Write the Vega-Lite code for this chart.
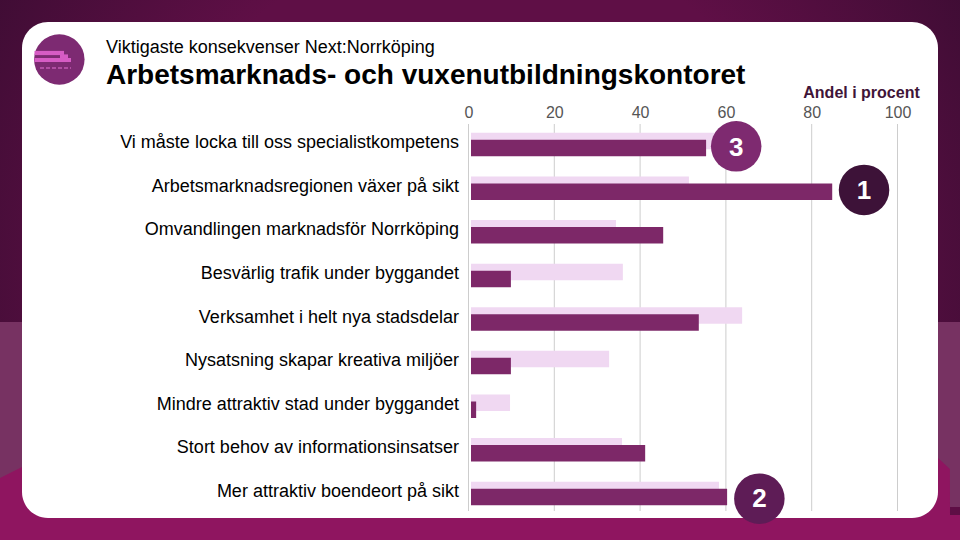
{"$schema":"https://vega.github.io/schema/vega-lite/v6.json","width":429,"height":387,"autosize":"none","padding":{"left":468.5,"top":124,"right":62.5,"bottom":29},"background":"#5a0e42","config":{"font":"Liberation Sans","view":{"stroke":null}},
"title":{"text":"Viktigaste konsekvenser Next:Norrköping","subtitle":"Arbetsmarknads- och vuxenutbildningskontoret","anchor":"start","frame":"group","dx":-362.5,"offset":-90,"fontSize":18,"fontWeight":"normal","color":"#000000","subtitleFontSize":28,"subtitleFontWeight":"bold","subtitleColor":"#000000","subtitlePadding":5,"zindex":1},
"datasets":{"rows":[
{"kategori":"Vi måste locka till oss specialistkompetens","serie":"Next","andel":54.8},
{"kategori":"Arbetsmarknadsregionen växer på sikt","serie":"Next","andel":84.2},
{"kategori":"Omvandlingen marknadsför Norrköping","serie":"Next","andel":44.8},
{"kategori":"Besvärlig trafik under byggandet","serie":"Next","andel":9.3},
{"kategori":"Verksamhet i helt nya stadsdelar","serie":"Next","andel":53.1},
{"kategori":"Nysatsning skapar kreativa miljöer","serie":"Next","andel":9.3},
{"kategori":"Mindre attraktiv stad under byggandet","serie":"Next","andel":1.2},
{"kategori":"Stort behov av informationsinsatser","serie":"Next","andel":40.6},
{"kategori":"Mer attraktiv boendeort på sikt","serie":"Next","andel":59.7},
{"kategori":"Vi måste locka till oss specialistkompetens","serie":"Alla","andel":57},
{"kategori":"Arbetsmarknadsregionen växer på sikt","serie":"Alla","andel":50.8},
{"kategori":"Omvandlingen marknadsför Norrköping","serie":"Alla","andel":33.8},
{"kategori":"Besvärlig trafik under byggandet","serie":"Alla","andel":35.4},
{"kategori":"Verksamhet i helt nya stadsdelar","serie":"Alla","andel":63.2},
{"kategori":"Nysatsning skapar kreativa miljöer","serie":"Alla","andel":32.2},
{"kategori":"Mindre attraktiv stad under byggandet","serie":"Alla","andel":9.1},
{"kategori":"Stort behov av informationsinsatser","serie":"Alla","andel":35.2},
{"kategori":"Mer attraktiv boendeort på sikt","serie":"Alla","andel":57.8}],
"ranks":[
{"kategori":"Vi måste locka till oss specialistkompetens","rank":"3","andel":62.4},
{"kategori":"Arbetsmarknadsregionen växer på sikt","rank":"1","andel":92.2},
{"kategori":"Mer attraktiv boendeort på sikt","rank":"2","andel":67.8}]},
"resolve":{"scale":{"x":"independent","y":"independent"},"axis":{"x":"independent","y":"independent"}},
"layer":[
{"encoding":{"x":{"field":"x0","type":"quantitative","axis":null,"scale":{"domain":[0,960],"range":[-468.5,491.5],"nice":false,"zero":false}},"y":{"field":"y0","type":"quantitative","axis":null,"scale":{"domain":[0,540],"range":[-124,416],"nice":false,"zero":false}}},
"layer":[
{"data":{"values":[{"x0":0,"x1":960,"y0":0,"y1":540}]},"mark":{"type":"rect","color":{"gradient":"radial","x1":0.5,"y1":0.5,"x2":0.5,"y2":0.5,"r1":0.35,"r2":0.72,"stops":[{"offset":0,"color":"#5f0f46"},{"offset":1,"color":"#2c0b2a"}]}},"encoding":{"x2":{"field":"x1"},"y2":{"field":"y1"}}},
{"data":{"values":[{"x0":0,"x1":960,"y0":322,"y1":540}]},"mark":{"type":"rect","color":"#773262"},"encoding":{"x2":{"field":"x1"},"y2":{"field":"y1"}}},
{"data":{"values":[{"x0":0,"y0":478,"y1":540},{"x0":22,"y0":467,"y1":540},{"x0":938,"y0":458,"y1":540},{"x0":949.9,"y0":469,"y1":540},{"x0":950,"y0":515,"y1":540},{"x0":960,"y0":515,"y1":540}]},"mark":{"type":"area","color":"#8f1560","orient":"vertical","opacity":1},"encoding":{"y2":{"field":"y1"}}},
{"data":{"values":[{"x0":950,"x1":960,"y0":507,"y1":515}]},"mark":{"type":"rect","color":"#5e0e45"},"encoding":{"x2":{"field":"x1"},"y2":{"field":"y1"}}},
{"data":{"values":[{"x0":22,"x1":938,"y0":22,"y1":518}]},"mark":{"type":"rect","color":"#ffffff","cornerRadius":26},"encoding":{"x2":{"field":"x1"},"y2":{"field":"y1"}}},
{"data":{"values":[{"x0":59.3,"y0":59.5}]},"mark":{"type":"circle","color":"#7d2a72","opacity":1,"size":2550}},
{"data":{"values":[{"x0":34.5,"x1":64,"y0":53},{"x0":60,"x1":68,"y0":56.5},{"x0":34.5,"x1":71,"y0":60}]},"mark":{"type":"rule","color":"#d65cc4","strokeWidth":4.2},"encoding":{"x2":{"field":"x1"}}},
{"data":{"values":[{"x0":40,"x1":71,"y0":68}]},"mark":{"type":"rule","color":"#c15ab2","strokeWidth":1.5,"strokeDash":[4,2]},"encoding":{"x2":{"field":"x1"}}}
]},
{"layer":[
{"data":{"values":[{"andel":0},{"andel":20},{"andel":40},{"andel":60},{"andel":80},{"andel":100}]},"mark":{"type":"rule","color":"#cdcdcd","strokeWidth":1},"encoding":{"x":{"field":"andel","type":"quantitative","scale":{"domain":[0,100],"nice":false,"zero":true},"axis":{"orient":"top","values":[0,20,40,60,80,100],"grid":false,"domain":false,"ticks":false,"labelFontSize":16,"labelColor":"#555555","labelPadding":4,"labelFlush":false,"zindex":1,"title":"Andel i procent","titleFontSize":16,"titleFontWeight":"bold","titleColor":"#3f1538","titleX":392.5,"titleY":-32,"titleBaseline":"middle","titleAlign":"center"}}}},
{"resolve":{"scale":{"color":"independent"}},
"encoding":{"x":{"field":"andel","type":"quantitative","scale":{"domain":[0,100],"nice":false,"zero":true},"axis":{"orient":"top","values":[0,20,40,60,80,100],"grid":false,"domain":false,"ticks":false,"labelFontSize":16,"labelColor":"#555555","labelPadding":4,"labelFlush":false,"zindex":1,"title":"Andel i procent","titleFontSize":16,"titleFontWeight":"bold","titleColor":"#3f1538","titleX":392.5,"titleY":-32,"titleBaseline":"middle","titleAlign":"center"}},
"y":{"field":"kategori","type":"nominal","sort":null,"scale":{"type":"band","domain":["Vi måste locka till oss specialistkompetens","Arbetsmarknadsregionen växer på sikt","Omvandlingen marknadsför Norrköping","Besvärlig trafik under byggandet","Verksamhet i helt nya stadsdelar","Nysatsning skapar kreativa miljöer","Mindre attraktiv stad under byggandet","Stort behov av informationsinsatser","Mer attraktiv boendeort på sikt"],"range":[-1.3,391.3],"paddingInner":0,"paddingOuter":0},"axis":{"title":null,"domain":false,"ticks":false,"grid":false,"labelFontSize":18,"labelColor":"#000000","labelPadding":10,"labelLimit":500,"labelOffset":-1.5,"zindex":1}}},
"layer":[
{"data":{"name":"rows"},"transform":[{"filter":"datum.serie==='Alla'"}],"mark":{"type":"bar","height":16.5,"yOffset":-3.5,"xOffset":2.5},"encoding":{"color":{"field":"serie","type":"nominal","scale":{"domain":["Alla","Next"],"range":["#f0d8f2","#7d2868"]},"legend":null}}},
{"data":{"name":"rows"},"transform":[{"filter":"datum.serie==='Next'"}],"mark":{"type":"bar","height":16.5,"yOffset":3.5,"xOffset":2.5},"encoding":{"color":{"field":"serie","type":"nominal","scale":{"domain":["Alla","Next"],"range":["#f0d8f2","#7d2868"]},"legend":null}}},
{"data":{"name":"ranks"},"transform":[{"filter":"datum.rank!=='2'"}],"mark":{"type":"circle","size":2550,"opacity":1,"yOffset":1.8},"encoding":{"color":{"field":"rank","type":"nominal","scale":{"domain":["1","2","3"],"range":["#3d1238","#5e1c56","#7e2a70"]},"legend":null}}},
{"data":{"name":"ranks"},"transform":[{"filter":"datum.rank==='2'"}],"mark":{"type":"circle","size":2550,"opacity":1,"yOffset":5.2},"encoding":{"color":{"field":"rank","type":"nominal","scale":{"domain":["1","2","3"],"range":["#3d1238","#5e1c56","#7e2a70"]},"legend":null}}},
{"data":{"name":"ranks"},"transform":[{"filter":"datum.rank!=='2'"}],"mark":{"type":"text","fontSize":26,"fontWeight":"bold","color":"#ffffff","baseline":"middle","yOffset":3},"encoding":{"text":{"field":"rank"}}},
{"data":{"name":"ranks"},"transform":[{"filter":"datum.rank==='2'"}],"mark":{"type":"text","fontSize":26,"fontWeight":"bold","color":"#ffffff","baseline":"middle","yOffset":6},"encoding":{"text":{"field":"rank"}}}
]}
]}
]}
